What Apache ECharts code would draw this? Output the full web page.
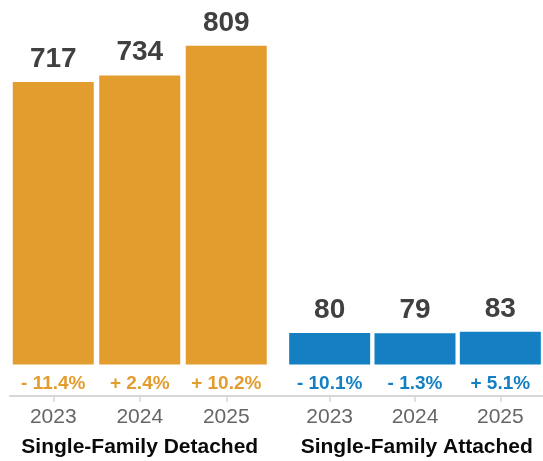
<!DOCTYPE html>
<html>
<head>
<meta charset="utf-8">
<title>Single-Family Sales</title>
<script src="https://cdn.jsdelivr.net/npm/echarts@6/dist/echarts.min.js"></script>
<style>
  html, body { margin: 0; padding: 0; background: #fff; }
  #chart { width: 543px; height: 461px; }
</style>
</head>
<body>
<div id="chart"></div>
<script>
// Yearly counts and year-over-year change for the two housing types
const years = ['2023', '2024', '2025'];
const detached = [717, 734, 809];
const attached = [80, 79, 83];
const detachedChange = [-11.4, 2.4, 10.2];
const attachedChange = [-10.1, -1.3, 5.1];
const groupNames = ['Single-Family Detached', 'Single-Family Attached'];

const ORANGE = '#E39D2F';
const BLUE = '#1480C3';
const FONT = '"Liberation Sans", Arial, Helvetica, sans-serif';
const LINE = '#d6d6d6';

function fmtChange(v) {
  return (v < 0 ? '- ' : '+ ') + Math.abs(v).toFixed(1) + '%';
}

// Each year slot is 86.5px wide; a third full-width grid carries the shared baseline
const SLOT = 86.5;
const grids = [
  { left: 10, width: SLOT * 3, top: 10, bottom: 65 },
  { left: 287, width: SLOT * 3, top: 10, bottom: 65 },
  { left: 10, right: 0, top: 10, bottom: 65 }
];

function yearAxis(gridIndex) {
  return {
    type: 'category',
    gridIndex: gridIndex,
    data: years,
    axisLine: { show: false, onZero: false },
    axisTick: {
      show: true, alignWithLabel: true, interval: 0, length: 6,
      lineStyle: { color: LINE, width: 1.5 }
    },
    axisLabel: { fontFamily: FONT, fontSize: 21, color: '#666', margin: 11 }
  };
}

const baseAxis = {
  type: 'category', gridIndex: 2, data: [''],
  axisLine: { show: true, onZero: false, lineStyle: { color: LINE, width: 2 } },
  axisTick: { show: false },
  axisLabel: { show: false }
};

function yAxisFor(gridIndex) {
  return { type: 'value', gridIndex: gridIndex, min: -80, max: 900, show: false, splitLine: { show: false } };
}

function barPair(idx, values, changes, color) {
  return [
    {
      type: 'bar', xAxisIndex: idx, yAxisIndex: idx, data: values, barWidth: 81,
      itemStyle: { color: color },
      label: {
        show: true, position: 'top', distance: 9,
        fontFamily: FONT, fontSize: 28, fontWeight: 'bold', color: '#404040'
      },
      silent: true
    },
    {
      type: 'bar', xAxisIndex: idx, yAxisIndex: idx, data: values, barWidth: 81, barGap: '-100%',
      itemStyle: { color: 'rgba(0,0,0,0)' },
      label: {
        show: true, position: 'bottom', distance: 10,
        formatter: function (p) { return fmtChange(changes[p.dataIndex]); },
        fontFamily: FONT, fontSize: 19, fontWeight: 'bold', color: color
      },
      silent: true
    }
  ];
}

const chart = echarts.init(document.getElementById('chart'), null, { renderer: 'canvas' });
chart.setOption({
  animation: false,
  backgroundColor: '#fff',
  grid: grids,
  xAxis: [yearAxis(0), yearAxis(1), baseAxis],
  yAxis: [yAxisFor(0), yAxisFor(1), yAxisFor(2)],
  series: barPair(0, detached, detachedChange, ORANGE).concat(barPair(1, attached, attachedChange, BLUE)),
  graphic: groupNames.map(function (name, i) {
    return {
      type: 'text',
      x: grids[i].left + grids[i].width / 2,
      y: 437,
      style: {
        text: name, align: 'center', verticalAlign: 'top',
        fontFamily: FONT, fontSize: 21, fontWeight: 'bold', fill: '#0a0a0a'
      }
    };
  })
});
</script>
</body>
</html>
